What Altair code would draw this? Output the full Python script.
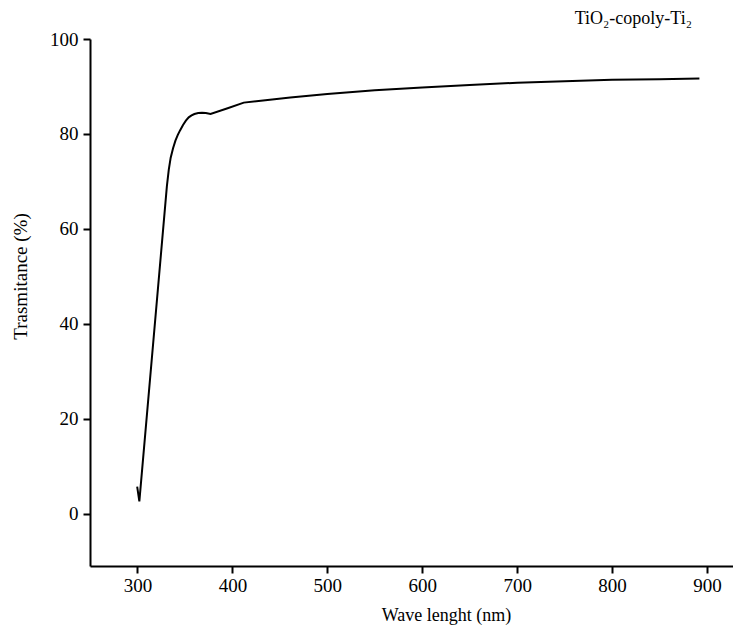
import altair as alt
import pandas as pd

wavelength = [299.7, 302, 331, 333, 335, 337.5, 340, 342.5, 345, 348, 351, 354, 357,
              360, 364, 368, 372, 377, 395, 412, 430, 461, 500, 550, 600, 650, 700,
              750, 800, 850, 892]
transmittance = [5.7, 2.6, 69, 72.5, 75, 77, 78.6, 79.8, 80.8, 81.9, 82.8, 83.5, 83.9,
                 84.2, 84.4, 84.45, 84.4, 84.2, 85.4, 86.6, 87.0, 87.7, 88.4, 89.2, 89.8,
                 90.3, 90.8, 91.1, 91.4, 91.5, 91.7]
x_ticks = [300, 400, 500, 600, 700, 800, 900]
y_ticks = [0, 20, 40, 60, 80, 100]

df = pd.DataFrame({"wl": wavelength, "t": transmittance, "order": list(range(len(wavelength)))})

font = "Liberation Serif"

chart = alt.Chart(df).mark_line(color="black", strokeWidth=2, interpolate="linear").encode(
    x=alt.X("wl:Q", scale=alt.Scale(domain=[250, 927.4], nice=False, zero=False),
            axis=alt.Axis(values=x_ticks, title="Wave lenght (nm)", grid=False,
                          domainColor="black", domainWidth=2, tickColor="black",
                          tickWidth=2, tickSize=7, labelFont=font, labelFontSize=19,
                          labelColor="black", labelPadding=3, titleFont=font,
                          titleFontSize=18, titleFontWeight="normal", titleColor="black",
                          titleX=356, titleY=49, titleBaseline="middle")),
    y=alt.Y("t:Q", scale=alt.Scale(domain=[-11, 100], nice=False, zero=False),
            axis=alt.Axis(values=y_ticks, title="Trasmitance (%)", grid=False,
                          domainColor="black", domainWidth=2, tickColor="black",
                          tickWidth=2, tickSize=7, labelFont=font, labelFontSize=19,
                          labelColor="black", labelPadding=5, labelBaseline="middle",
                          titleFont=font,
                          titleFontSize=19, titleFontWeight="normal", titleColor="black",
                          titleX=-70, titleY=237, titleAngle=-90, titleBaseline="middle")),
    order="order:O",
).properties(
    width=643, height=527,
    title=alt.TitleParams("TiO₂-copoly-Ti₂", font=font, fontSize=18, fontWeight="normal",
                          color="black", anchor="end", dx=-41, offset=2),
    autosize=alt.AutoSizeParams(type="none"),
    padding={"left": 82, "top": 31, "right": 0, "bottom": 61},
).configure(font=font).configure_view(stroke=None)

chart.save("out.html", embed_options={"renderer": "svg", "actions": False})
